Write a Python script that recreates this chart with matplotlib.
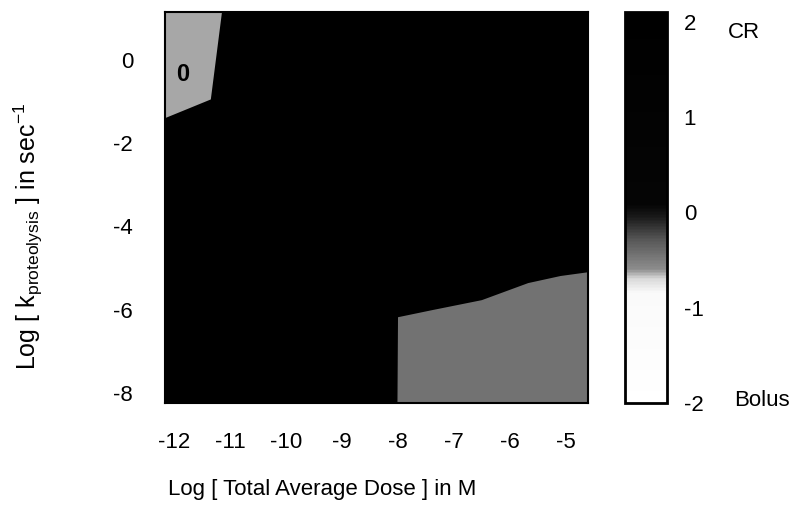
import numpy as np
import matplotlib
matplotlib.use("Agg")
import matplotlib.pyplot as plt
from matplotlib.colors import LinearSegmentedColormap, Normalize
from matplotlib.cm import ScalarMappable

plt.rcParams['font.family'] = ['Liberation Sans', 'DejaVu Sans']
plt.rcParams['mathtext.fontset'] = 'custom'
plt.rcParams['mathtext.rm'] = 'Liberation Sans'
plt.rcParams['mathtext.it'] = 'Liberation Sans'

# Axis ranges (log10 units)
dose_ticks = [-12, -11, -10, -9, -8, -7, -6, -5]
k_ticks = [0, -2, -4, -6, -8]
cbar_ticks = [2, 1, 0, -1, -2]

# Advantage score over the whole plane (controlled release favoured)
background_value = 2.0

# Region near high k / low dose (contour labelled 0)
region_a_dose = [-12.17, -11.15, -11.35, -12.17]
region_a_k = [1.15, 1.15, -0.95, -1.4]
region_a_value = -0.63

# Region of low k / high dose (bolus favoured)
region_b_dose = [-8.01, -8.0, -7.39, -6.50, -5.67, -5.09, -4.60, -4.60]
region_b_k = [-8.24, -6.18, -6.01, -5.77, -5.36, -5.19, -5.10, -8.24]
region_b_value = -0.45

xlim = (-12.17, -4.60)
ylim = (-8.24, 1.15)

cmap = LinearSegmentedColormap.from_list(
    "cr_bolus",
    [(0.0, (1, 1, 1)), (0.2875, (0.98, 0.98, 0.98)), (0.325, (0.85, 0.85, 0.85)),
     (0.35, (0.55, 0.55, 0.55)), (0.425, (0.35, 0.35, 0.35)),
     (0.4875, (0.10, 0.10, 0.10)), (0.52, (0.02, 0.02, 0.02)), (1.0, (0, 0, 0))])
norm = Normalize(vmin=-2, vmax=2)

fig = plt.figure(figsize=(7.96, 5.16), dpi=100)
ax = fig.add_axes([165 / 796, 1 - 403 / 516, 423 / 796, 391 / 516])
cax = fig.add_axes([625 / 796, 1 - 403 / 516, 42 / 796, 391 / 516])

ax.fill([xlim[0], xlim[1], xlim[1], xlim[0]], [ylim[0], ylim[0], ylim[1], ylim[1]],
        color=cmap(norm(background_value)), lw=0)
ax.fill(region_a_dose, region_a_k, color=cmap(norm(region_a_value)), lw=0)
ax.fill(region_b_dose, region_b_k, color=cmap(norm(region_b_value)), lw=0)
ax.text(-11.86, -0.36, "0", fontsize=17, fontweight='bold', color='black',
        ha='center', va='center')

ax.set_xlim(*xlim)
ax.set_ylim(*ylim)
ax.set_xticks(dose_ticks)
ax.set_xticklabels([str(t) for t in dose_ticks])
ax.set_yticks(k_ticks)
ax.set_yticklabels([str(t) for t in k_ticks])
ax.tick_params(axis='both', length=0, labelsize=16)
ax.tick_params(axis='x', pad=21)
ax.tick_params(axis='y', pad=23)
for s in ax.spines.values():
    s.set_linewidth(1.5)
ax.set_xlabel("Log [ Total Average Dose ] in M", fontsize=16, va='center')
ax.xaxis.set_label_coords(0.371, -0.2225)
ax.set_ylabel(r"Log [ k$_{\mathrm{proteolysis}}$ ] in sec$^{\mathrm{-1}}$",
              fontsize=18, va='center')
ax.yaxis.set_label_coords(-0.322, 0.425)

cb = fig.colorbar(ScalarMappable(norm=norm, cmap=cmap), cax=cax)
cb.set_ticks(cbar_ticks)
cb.set_ticklabels([str(t) for t in cbar_ticks])
cax.set_facecolor('black')
cax.set_ylim(-2, 2.1)
cax.tick_params(length=0, labelsize=16, pad=12)
cb.outline.set_linewidth(2)

fig.text(728 / 796, 1 - 33 / 516, "CR", fontsize=16, ha='left', va='center')
fig.text(790 / 796, 1 - 400 / 516, "Bolus", fontsize=16, ha='right', va='center')

fig.savefig("out.png", dpi=100)
